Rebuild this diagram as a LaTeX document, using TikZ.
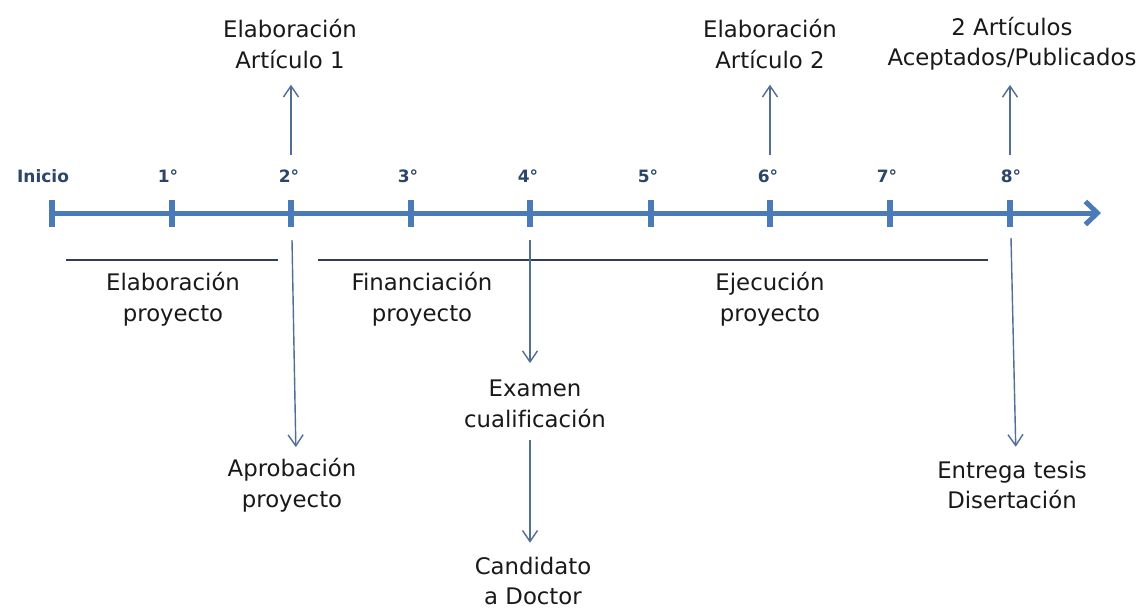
\documentclass[tikz,border=0pt]{standalone}
\usepackage{fontspec}
\setmainfont[Ligatures=NoCommon]{DejaVu Sans}
\usetikzlibrary{arrows.meta,calc}
\definecolor{axisblue}{RGB}{74,122,184}
\definecolor{arrowblue}{RGB}{80,110,150}
\definecolor{labelnavy}{RGB}{44,70,105}
\definecolor{sepline}{RGB}{47,63,85}
\definecolor{textdark}{RGB}{25,25,25}
\tikzset{
  axisline/.style={line width=5pt, draw=axisblue},
  ticklbl/.style={font=\fontsize{17}{20}\selectfont\bfseries, text=labelnavy, inner sep=0pt},
  lbl/.style={font=\fontsize{22.8}{30.5}\selectfont, text=textdark, align=center, inner sep=2pt},
  thinarrow/.style={draw=arrowblue, line width=1.4pt, -{Straight Barb[length=11pt,width=15pt,line width=1.4pt]}},
  sep/.style={draw=sepline, line width=1.2pt},
}
\begin{document}
\begin{tikzpicture}[x=1pt,y=-1pt]
\useasboundingbox (0,0) rectangle (1142,608);
\fill[white] (0,0) rectangle (1142,608);
% axis coordinates
\foreach \i/\x in {0/52,1/172,2/291,3/411,4/530,5/651,6/770,7/890,8/1010}{
  \coordinate (t\i) at (\x,213);
}
\coordinate (axisend) at (1101,213);
\draw[axisline, -{Straight Barb[length=12pt,width=23pt,line width=5pt]}] (t0) -- (axisend);
\foreach \i in {0,...,8}{
  \draw[axisline, line width=5.5pt] ($(t\i)+(0,-13.5)$) -- ($(t\i)+(0,13.5)$);
}
% tick labels
\node[ticklbl] (l0) at (43,176) {Inicio};
\node[ticklbl] (l1) at (168,176) {1°};
\node[ticklbl] (l2) at (289,176) {2°};
\node[ticklbl] (l3) at (408,176) {3°};
\node[ticklbl] (l4) at (528,176) {4°};
\node[ticklbl] (l5) at (648,176) {5°};
\node[ticklbl] (l6) at (768,176) {6°};
\node[ticklbl] (l7) at (887,176) {7°};
\node[ticklbl] (l8) at (1011,176) {8°};
% top labels
\node[lbl] (art1) at (290,44) {Elaboración\\Artículo 1};
\node[lbl] (art2) at (770,44) {Elaboración\\Artículo 2};
\node[lbl] (pub) at (1012,44) {2 Artículos\\Aceptados/Publicados};
% separator lines
\coordinate (s1a) at (66,260); \coordinate (s1b) at (278,260);
\coordinate (s2a) at (318,260); \coordinate (s2b) at (988,260);
\draw[sep] (s1a) -- (s1b);
\draw[sep] (s2a) -- (s2b);
% phase labels
\node[lbl] (elab) at (173,299) {Elaboración\\proyecto};
\node[lbl] (fin) at (422,299) {Financiación\\proyecto};
\node[lbl] (ejec) at (770,299) {Ejecución\\proyecto};
% bottom labels
\node[lbl] (apro) at (292,485) {Aprobación\\proyecto};
\node[lbl] (exam) at (535,404) {Examen\\cualificación};
\node[lbl] (cand) at (533,581) {Candidato\\a Doctor};
\node[lbl] (entr) at (1012,485) {Entrega tesis\\Disertación};
% arrow start coordinates
\coordinate (u2) at (291,155);
\coordinate (u6) at (770,155);
\coordinate (u8) at (1010,155);
\coordinate (d2) at (292,240);
\coordinate (d4) at (530,240);
\coordinate (d8) at (1011,238);
% up arrows
\draw[thinarrow, shorten >=14pt] (u2) -- (art1.south -| u2);
\draw[thinarrow, shorten >=14pt] (u6) -- (art2.south -| u6);
\draw[thinarrow, shorten >=12pt] (u8) -- (pub.south -| u8);
% down arrows
\draw[thinarrow, shorten >=9pt] (d2) -- ($(apro.north)+(4,0)$);
\draw[thinarrow, shorten >=15pt] (d4) -- (exam.north -| d4);
\draw[thinarrow, shorten <=10pt, shorten >=12pt] (exam.south -| d4) -- (cand.north -| d4);
\draw[thinarrow, shorten >=12pt] (d8) -- ($(entr.north)+(4,0)$);
\end{tikzpicture}
\end{document}
